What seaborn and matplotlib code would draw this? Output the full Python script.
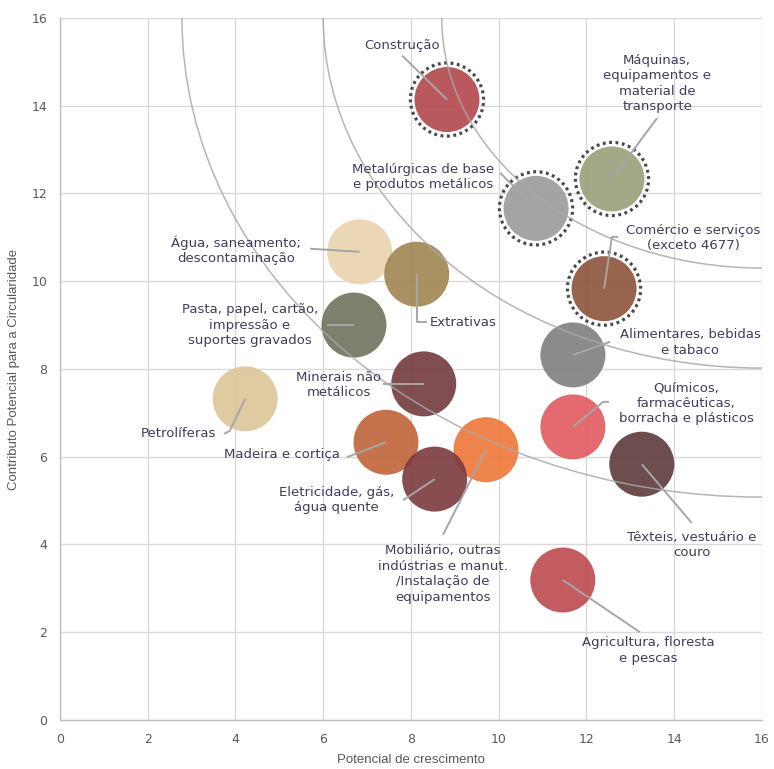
import matplotlib
matplotlib.use("Agg")
import matplotlib.pyplot as plt
from matplotlib.patches import Ellipse
import seaborn as sns
import pandas as pd

# --- data -------------------------------------------------------------
sectors = [
    "Construção",
    "Máquinas,\nequipamentos e\nmaterial de\ntransporte",
    "Metalúrgicas de base\ne produtos metálicos",
    "Comércio e serviços\n(exceto 4677)",
    "Alimentares, bebidas\ne tabaco",
    "Químicos,\nfarmacêuticas,\nborracha e plásticos",
    "Têxteis, vestuário e\ncouro",
    "Agricultura, floresta\ne pescas",
    "Água, saneamento;\ndescontaminação",
    "Extrativas",
    "Pasta, papel, cartão,\nimpressão e\nsuportes gravados",
    "Minerais não\nmetálicos",
    "Petrolíferas",
    "Madeira e cortiça",
    "Mobiliário, outras\nindústrias e manut.\n/Instalação de\nequipamentos",
    "Eletricidade, gás,\nágua quente",
]
growth = [8.82, 12.58, 10.85, 12.40, 11.69, 11.69, 13.26, 11.46,
          6.83, 8.13, 6.70, 8.29, 4.22, 7.43, 9.71, 8.54]
circularity = [14.14, 12.33, 11.66, 9.83, 8.32, 6.68, 5.83, 3.19,
               10.67, 10.16, 9.00, 7.66, 7.32, 6.33, 6.16, 5.49]
highlighted = sectors[:4]

colors = ["#B3474B", "#9A9F7A", "#999B99", "#8C5339", "#7E807D", "#E05A5F",
          "#5E3A3B", "#BD4A4F", "#E9D3AE", "#A08550", "#6E725C", "#723B3D",
          "#DDC597", "#C0643A", "#EE7638", "#7B3A3D"]

# iso-lines: quarter ellipses centred on the upper-right corner (semi-axes x, y)
iso_axes = [(13.22, 10.92), (10.0, 7.98), (7.3, 5.7)]

# --- label layout (text position, alignment, leader path to the text) ---
label_layout = {
    0: dict(xy=(7.80, 15.38), ha="center", path=[(7.80, 15.14)]),
    1: dict(xy=(13.61, 14.50), ha="center", path=[(13.61, 13.72)]),
    2: dict(xy=(8.27, 12.38), ha="center", path=[(10.03, 12.47)]),
    3: dict(xy=(14.43, 10.99), ha="center", path=[(12.58, 11.01), (12.72, 11.01)]),
    4: dict(xy=(14.36, 8.60), ha="center", path=[(12.54, 8.62)]),
    5: dict(xy=(14.27, 7.22), ha="center", path=[(12.38, 7.25), (12.51, 7.25)]),
    6: dict(xy=(14.40, 3.99), ha="center", path=[(14.40, 4.49)]),
    7: dict(xy=(13.40, 1.58), ha="center", path=[(13.22, 2.00)]),
    8: dict(xy=(4.01, 10.71), ha="center", path=[(5.70, 10.74)]),
    9: dict(xy=(8.43, 9.05), ha="left", path=[(8.13, 9.07), (8.36, 9.07)]),
    10: dict(xy=(4.33, 9.00), ha="center", path=[(6.09, 9.00)]),
    11: dict(xy=(6.36, 7.64), ha="center", path=[(7.36, 7.66)]),
    12: dict(xy=(2.69, 6.53), ha="center", path=[(3.87, 6.59), (3.74, 6.52)]),
    13: dict(xy=(5.06, 6.04), ha="center", path=[(6.54, 5.99)]),
    14: dict(xy=(8.73, 3.33), ha="center", path=[(8.73, 4.22)]),
    15: dict(xy=(6.31, 5.01), ha="center", path=[(7.82, 5.01)]),
}

df = pd.DataFrame({"sector": sectors, "growth": growth, "circularity": circularity})
palette = dict(zip(sectors, colors))

sns.set_style("white")
plt.rcParams["font.family"] = ["DejaVu Sans"]

fig = plt.figure(figsize=(7.74, 7.69), dpi=100)
ax = fig.add_axes([0.0775, 0.0637, 0.907, 0.913])

ax.set_xlim(0, 16)
ax.set_ylim(0, 16)
ax.set_xticks(range(0, 17, 2))
ax.set_yticks(range(0, 17, 2))
ax.grid(True, color="#D9D9D9", linewidth=1.0, zorder=0)
ax.set_axisbelow(True)
for side in ("top", "right"):
    ax.spines[side].set_visible(False)
for side in ("left", "bottom"):
    ax.spines[side].set_color("#BFBFBF")
    ax.spines[side].set_linewidth(1.0)
ax.tick_params(length=0, labelsize=9, labelcolor="#595959", pad=9)

# dotted rings around the highlighted sectors
hl = df[df["sector"].isin(highlighted)]
ax.scatter(hl["growth"], hl["circularity"], s=2780, facecolors="none",
           edgecolors="#4A4A4A", linewidths=2.3, linestyles=[(0, (0.9, 1.1))],
           zorder=2)

sns.scatterplot(data=df, x="growth", y="circularity", hue="sector",
                palette=palette, s=2190, alpha=0.9, edgecolor="none",
                legend=False, ax=ax, zorder=3)

for a, b in iso_axes:
    ax.add_patch(Ellipse((16, 16), 2 * a, 2 * b, fill=False,
                         edgecolor="#A8A8A8", linewidth=1.1, alpha=0.85, zorder=4))

text_color = "#3E3E5C"
for i, name in enumerate(sectors):
    lay = label_layout[i]
    pts = [(growth[i], circularity[i])] + lay["path"]
    ax.plot([p[0] for p in pts], [p[1] for p in pts], color="#A6A6A6",
            linewidth=1.4, zorder=5, solid_capstyle="butt")
    ax.text(lay["xy"][0], lay["xy"][1], name, ha=lay["ha"], va="center",
            multialignment="center", fontsize=9.5, color=text_color,
            linespacing=1.25, zorder=6)

ax.set_xlabel("Potencial de crescimento", fontsize=9.5, color="#595959",
              family=["Liberation Sans", "DejaVu Sans"], labelpad=6)
ax.set_ylabel("Contributo Potencial para a Circularidade", fontsize=9.5,
              color="#595959", family=["Liberation Sans", "DejaVu Sans"], labelpad=8)

fig.savefig("out.png", dpi=100)
